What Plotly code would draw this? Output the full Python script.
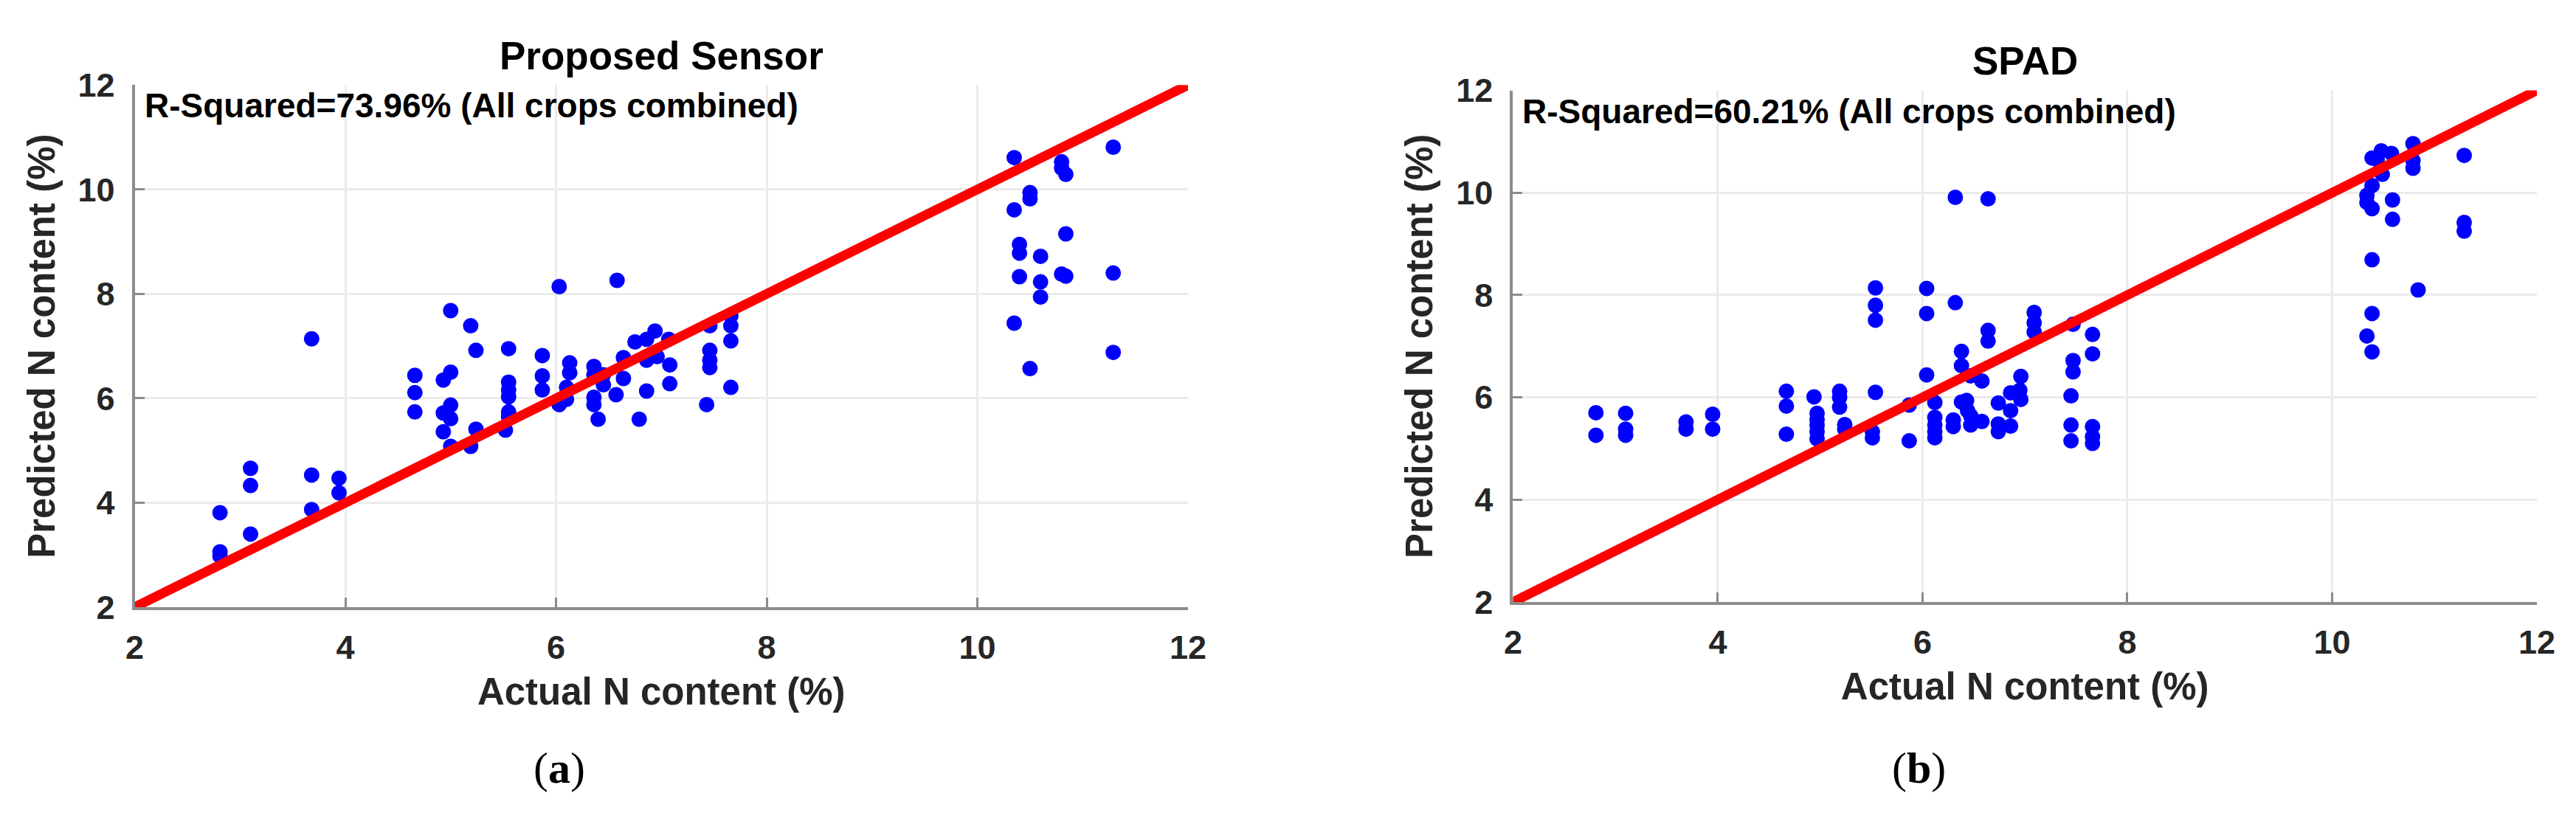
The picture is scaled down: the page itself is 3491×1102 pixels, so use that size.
import plotly.graph_objects as go
from plotly.subplots import make_subplots

# dados (a) - sensor proposto
sensor_actual = [2.81, 2.81, 2.81, 3.10, 3.10, 3.10, 3.68, 3.68, 3.68, 3.94, 3.94,
                 4.66, 4.66, 4.66, 5.00, 5.00, 5.00, 5.00, 5.00, 4.93, 4.93, 4.93,
                 5.19, 5.19, 5.24, 5.24, 5.55, 5.55, 5.55, 5.55, 5.55, 5.55, 5.52,
                 5.87, 5.87, 5.87, 6.03, 6.03, 6.10, 6.10, 6.13, 6.13,
                 6.36, 6.36, 6.36, 6.36, 6.40, 6.45, 6.45, 6.57, 6.58, 6.64, 6.64,
                 6.75, 6.79, 6.86, 6.86, 6.86, 6.94, 6.96, 7.07, 7.08, 7.08,
                 7.43, 7.46, 7.46, 7.46, 7.46, 7.66, 7.66, 7.66, 7.66,
                 10.35, 10.35, 10.35, 10.40, 10.40, 10.40, 10.50, 10.50, 10.50,
                 10.60, 10.60, 10.60, 10.80, 10.80, 10.80, 10.84, 10.84, 10.84,
                 11.29, 11.29, 11.29]
sensor_pred = [3.81, 3.06, 2.98, 4.66, 4.33, 3.40, 7.14, 4.53, 3.87, 4.47, 4.19,
               6.44, 6.11, 5.74, 7.68, 6.50, 5.87, 5.61, 5.08, 6.35, 5.72, 5.36,
               7.39, 5.08, 6.92, 5.41, 6.95, 6.31, 6.16, 6.03, 5.74, 5.65, 5.39,
               6.82, 6.43, 6.16, 8.14, 5.88, 6.21, 5.98, 6.68, 6.49,
               6.61, 6.45, 6.02, 5.88, 5.60, 6.45, 6.26, 6.07, 8.26, 6.78, 6.38,
               7.08, 5.60, 7.13, 6.73, 6.14, 7.29, 6.80, 7.13, 6.64, 6.28,
               5.88, 7.39, 6.92, 6.73, 6.59, 7.58, 7.39, 7.10, 6.21,
               10.61, 9.61, 7.44, 8.95, 8.78, 8.33, 9.94, 9.82, 6.57,
               8.72, 8.23, 7.94, 10.53, 10.41, 8.38, 10.29, 9.15, 8.34,
               10.81, 8.40, 6.88]

# dados (b) - SPAD
spad_actual = [2.81, 2.81, 3.10, 3.10, 3.10, 3.69, 3.69, 3.95, 3.95,
               4.67, 4.67, 4.67, 4.94, 4.97, 4.97, 4.97, 4.97, 4.97,
               5.19, 5.19, 5.19, 5.24, 5.24, 5.54, 5.54, 5.54, 5.54, 5.51, 5.51,
               5.87, 5.87, 6.04, 6.04, 6.04, 6.12, 6.12, 6.12, 6.12, 6.12,
               6.30, 6.30, 6.32, 6.32, 6.38, 6.38, 6.38, 6.43, 6.44,
               6.47, 6.47, 6.47, 6.58, 6.58, 6.64, 6.64, 6.64,
               6.74, 6.74, 6.74, 6.86, 6.86, 6.86, 6.95, 6.96, 6.96,
               7.09, 7.09, 7.09, 7.45, 7.45, 7.45, 7.47, 7.47, 7.47,
               7.66, 7.66, 7.66, 7.66, 7.66,
               10.34, 10.34, 10.34, 10.39, 10.39, 10.39, 10.39, 10.39, 10.39,
               10.44, 10.48, 10.49, 10.58, 10.59, 10.59, 10.79, 10.79, 10.79,
               10.84, 11.29, 11.29, 11.29]
spad_pred = [5.70, 5.26, 5.69, 5.38, 5.26, 5.52, 5.38, 5.67, 5.38,
             6.12, 5.83, 5.28, 6.01, 5.69, 5.57, 5.45, 5.33, 5.19,
             6.12, 6.00, 5.81, 5.47, 5.38, 8.14, 7.80, 7.51, 6.10, 5.33, 5.21,
             5.85, 5.15, 8.13, 7.64, 6.44, 5.90, 5.61, 5.46, 5.33, 5.21,
             5.56, 5.43, 9.91, 7.85, 6.90, 6.62, 5.91, 5.94, 5.74,
             6.42, 5.64, 5.46, 6.32, 5.53, 9.88, 7.31, 7.10,
             5.89, 5.48, 5.33, 6.09, 5.74, 5.44, 6.14, 6.41, 5.96,
             7.66, 7.46, 7.28, 6.03, 5.46, 5.15, 7.43, 6.72, 6.50,
             7.23, 6.85, 5.43, 5.23, 5.10,
             9.95, 9.81, 7.20, 10.68, 10.14, 9.69, 8.69, 7.64, 6.89,
             10.65, 10.82, 10.36, 10.77, 9.86, 9.48, 10.96, 10.63, 10.48,
             8.10, 10.73, 9.42, 9.25]

# linha 1:1
line_x = [2, 12]
line_y = [2, 12]

titles = ['Proposed Sensor', 'SPAD']
r2_texts = ['R-Squared=73.96% (All crops combined)', 'R-Squared=60.21% (All crops combined)']
panel_labels = ['(<b>a</b>)', '(<b>b</b>)']
tick_vals = [2, 4, 6, 8, 10, 12]

W, H = 3491, 1102
FONT = 'Liberation Sans, Arial, sans-serif'

fig = make_subplots(rows=1, cols=2)

for col, (xs, ys) in enumerate([(sensor_actual, sensor_pred), (spad_actual, spad_pred)], start=1):
    fig.add_trace(go.Scatter(x=xs, y=ys, mode='markers',
                             marker=dict(color='#0000ff', size=21, line=dict(width=0)),
                             showlegend=False), row=1, col=col)
    fig.add_trace(go.Scatter(x=line_x, y=line_y, mode='lines',
                             line=dict(color='#ff0000', width=13),
                             showlegend=False), row=1, col=col)

# posicoes dos eixos (em fracao da figura)
x_domains = [[174.5 / W, 1602 / W], [2042.4 / W, 3430 / W]]
y_domains = [[1 - 815 / H, 1 - 107.3 / H], [1 - 808 / H, 1 - 114.6 / H]]

axis_common = dict(range=[2, 12], tickvals=tick_vals, showgrid=True, gridcolor='#ebebeb',
                   gridwidth=3, showline=True, linecolor='#8c8c8c', linewidth=4,
                   ticks='inside', ticklen=13, tickwidth=3, tickcolor='#8c8c8c',
                   zeroline=False, tickfont=dict(family=FONT, size=45, color='#262626', weight='bold'),
                   automargin=False)

for i in range(2):
    xa = 'xaxis' if i == 0 else 'xaxis2'
    ya = 'yaxis' if i == 0 else 'yaxis2'
    fig.layout[xa].update(domain=x_domains[i], ticklabelstandoff=12,
                          title=dict(text='<b>Actual N content (%)</b>', standoff=18,
                                     font=dict(family=FONT, size=51, color='#262626')),
                          **axis_common)
    fig.layout[ya].update(domain=y_domains[i], ticklabelstandoff=14,
                          title=dict(text='<b>Predicted N content (%)</b>', standoff=16,
                                     font=dict(family=FONT, size=51, color='#262626')),
                          **axis_common)

annotations = []
title_y = [1 - 67 / H, 1 - 74 / H]
for i in range(2):
    xc = (x_domains[i][0] + x_domains[i][1]) / 2
    annotations.append(dict(text='<b>' + titles[i] + '</b>', x=xc, y=title_y[i], xref='paper', yref='paper',
                            xanchor='center', yanchor='middle', showarrow=False,
                            font=dict(family=FONT, size=53, color='black')))
    annotations.append(dict(text='<b>' + r2_texts[i] + '</b>', x=x_domains[i][0] + 11 / W,
                            y=y_domains[i][1] - 28 / H, xref='paper', yref='paper',
                            xanchor='left', yanchor='middle', showarrow=False,
                            font=dict(family=FONT, size=46, color='black')))
label_x = [750 / W, 2592 / W]
for i in range(2):
    annotations.append(dict(text=panel_labels[i], x=label_x[i], y=1 - 1033 / H, xref='paper', yref='paper',
                            xanchor='center', yanchor='middle', showarrow=False,
                            font=dict(family='Liberation Serif, Times New Roman, serif', size=60, color='black')))

fig.update_layout(width=W, height=H, margin=dict(l=0, r=0, t=0, b=0),
                  plot_bgcolor='white', paper_bgcolor='white', annotations=annotations)

fig.write_html('out.html')
